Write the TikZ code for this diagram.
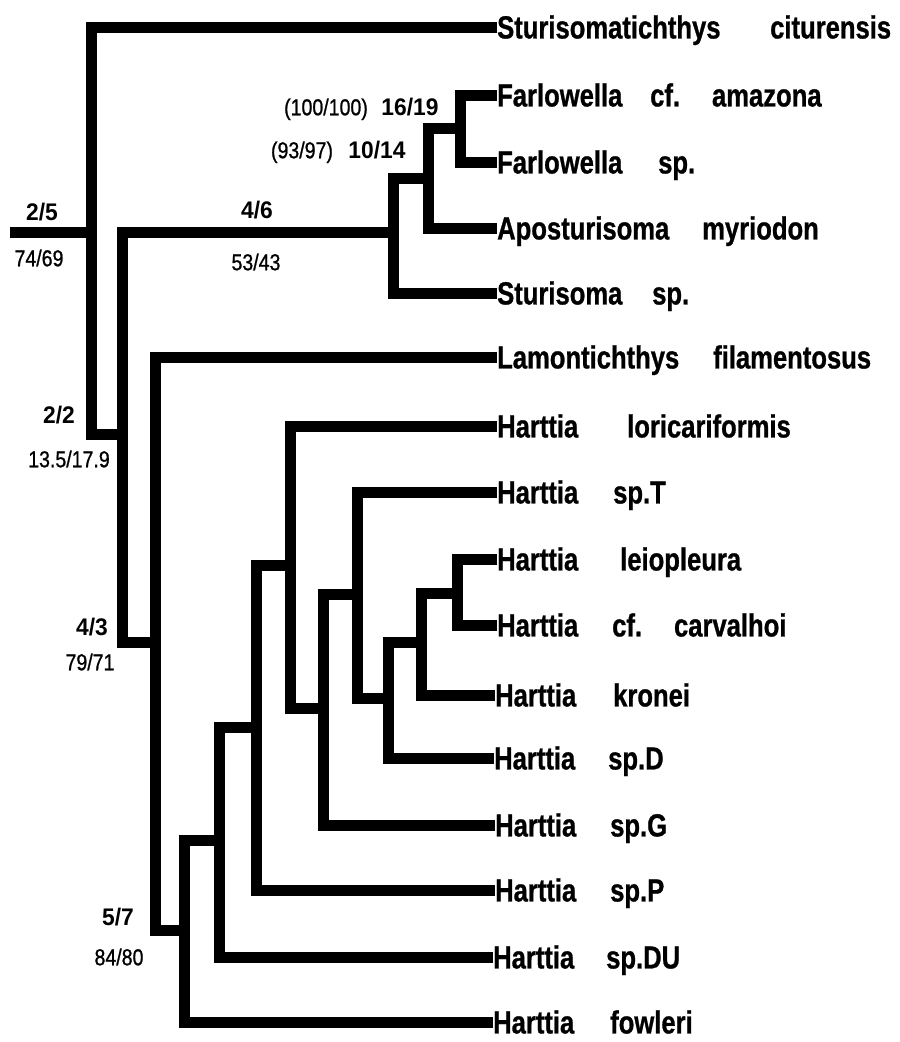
\documentclass[tikz,border=0pt]{standalone}
\usepackage{fontspec}
\setmainfont{Liberation Sans}
\newfontfamily\leaffont[FakeStretch=0.8,FakeBold=0.8]{Liberation Sans}
\newfontfamily\numfont[FakeStretch=0.85,FakeBold=0.9]{Liberation Sans}
\newfontfamily\bnumfont[FakeStretch=0.95]{Liberation Sans}
\begin{document}
\begin{tikzpicture}[x=1pt,y=-1pt,
  branch/.style={line width=11pt, line join=miter, line cap=butt},
  leaf/.style={anchor=west, inner sep=0pt, text height=22.9pt, text depth=0pt,
    font=\leaffont\bfseries\fontsize{32}{38}\selectfont},
  bnum/.style={inner sep=0pt, text height=17pt, text depth=0pt,
    font=\bnumfont\bfseries\fontsize{24}{28}\selectfont},
  snum/.style={inner sep=0pt, text height=16.5pt, text depth=0pt,
    font=\numfont\fontsize{23}{28}\selectfont}]
\useasboundingbox (0,0) rectangle (900,1042);

% taxa: genus nodes (branch ends) and epithets
\node[leaf] (l1)  at (497,27)   {Sturisomatichthys};
\node[leaf] (s1)  at (770,27)   {citurensis};
\node[leaf] (l2)  at (497,95)   {Farlowella};
\node[leaf] (s2)  at (650,95)   {cf.\hspace{32pt}amazona};
\node[leaf] (l3)  at (497,162)  {Farlowella};
\node[leaf] (s3)  at (658,162)  {sp.};
\node[leaf] (l4)  at (497,228)  {Aposturisoma};
\node[leaf] (s4)  at (702,228)  {myriodon};
\node[leaf] (l5)  at (497,293)  {Sturisoma};
\node[leaf] (s5)  at (652,293)  {sp.};
\node[leaf] (l6)  at (497,357)  {Lamontichthys};
\node[leaf] (s6)  at (713,357)  {filamentosus};
\node[leaf] (l7)  at (497,426)  {Harttia};
\node[leaf] (s7)  at (627,426)  {loricariformis};
\node[leaf] (l8)  at (497,492)  {Harttia};
\node[leaf] (s8)  at (613,492)  {sp.T};
\node[leaf] (l9)  at (497,559)  {Harttia};
\node[leaf] (s9)  at (620,559)  {leiopleura};
\node[leaf] (l10) at (497,625)  {Harttia};
\node[leaf] (s10) at (612,625)  {cf.\hspace{32pt}carvalhoi};
\node[leaf] (l11) at (495,695)  {Harttia};
\node[leaf] (s11) at (613,695)  {kronei};
\node[leaf] (l12) at (494,758)  {Harttia};
\node[leaf] (s12) at (608,758)  {sp.D};
\node[leaf] (l13) at (495,825)  {Harttia};
\node[leaf] (s13) at (610,825)  {sp.G};
\node[leaf] (l14) at (495,890)  {Harttia};
\node[leaf] (s14) at (610,890)  {sp.P};
\node[leaf] (l15) at (493,957)  {Harttia};
\node[leaf] (s15) at (606,957)  {sp.DU};
\node[leaf] (l16) at (493,1022) {Harttia};
\node[leaf] (s16) at (610,1022) {fowleri};

% internal nodes
\coordinate (R0) at (10,232);
\coordinate (R) at (91,232);
\coordinate (A) at (122,434);
\coordinate (B) at (393,232);
\coordinate (C) at (428,178);
\coordinate (D) at (460,128);
\coordinate (E) at (155,642);
\coordinate (F) at (184,930);
\coordinate (G) at (219,840);
\coordinate (H) at (256,727);
\coordinate (I) at (290,565);
\coordinate (J) at (323,708);
\coordinate (K) at (357,594);
\coordinate (L) at (388,698);
\coordinate (M) at (421,642);
\coordinate (N) at (457,593);

% branches
\draw[branch] (R0) -- (R);
\draw[branch] (R) |- (l1.west);
\draw[branch] (R) |- (A);
\draw[branch] (A) |- (B);
\draw[branch] (A) |- (E);
\draw[branch] (B) |- (C);
\draw[branch] (B) |- (l5.west);
\draw[branch] (C) |- (D);
\draw[branch] (C) |- (l4.west);
\draw[branch] (D) |- (l2.west);
\draw[branch] (D) |- (l3.west);
\draw[branch] (E) |- (l6.west);
\draw[branch] (E) |- (F);
\draw[branch] (F) |- (G);
\draw[branch] (F) |- (l16.west);
\draw[branch] (G) |- (H);
\draw[branch] (G) |- (l15.west);
\draw[branch] (H) |- (I);
\draw[branch] (H) |- (l14.west);
\draw[branch] (I) |- (l7.west);
\draw[branch] (I) |- (J);
\draw[branch] (J) |- (K);
\draw[branch] (J) |- (l13.west);
\draw[branch] (K) |- (l8.west);
\draw[branch] (K) |- (L);
\draw[branch] (L) |- (M);
\draw[branch] (L) |- (l12.west);
\draw[branch] (M) |- (N);
\draw[branch] (M) |- (l11.west);
\draw[branch] (N) |- (l9.west);
\draw[branch] (N) |- (l10.west);

% support values
\node[bnum] (v25)   at (42,212)  {2/5};
\node[snum] (v7469) at (39,258)  {74/69};
\node[bnum] (v46)   at (257,210) {4/6};
\node[snum] (v5343) at (256,262) {53/43};
\node[snum] (v100)  at (326,107) {(100/100)};
\node[bnum] (v1619) at (410,107) {16/19};
\node[snum] (v9397) at (302,150) {(93/97)};
\node[bnum] (v1014) at (377,150) {10/14};
\node[bnum] (v22)   at (59,415)  {2/2};
\node[snum] (v135)  at (69,459)  {13.5/17.9};
\node[bnum] (v43)   at (92,627)  {4/3};
\node[snum] (v7971) at (90,662)  {79/71};
\node[bnum] (v57)   at (118,917) {5/7};
\node[snum] (v8480) at (119,957) {84/80};
\end{tikzpicture}
\end{document}
